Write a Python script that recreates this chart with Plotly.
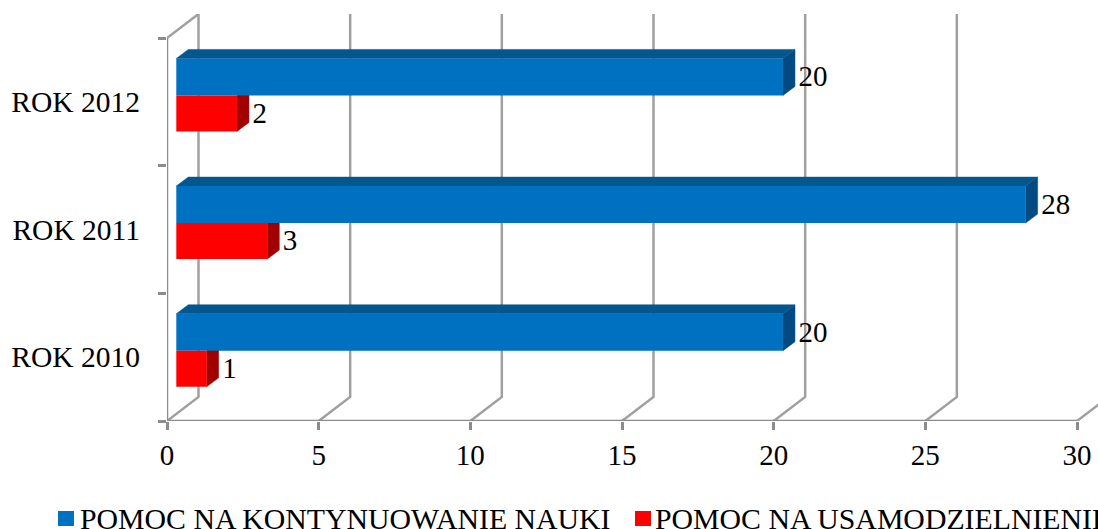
import plotly.graph_objects as go

# ---- data ----
categories = ["ROK 2010", "ROK 2011", "ROK 2012"]
series_names = ["POMOC NA KONTYNUOWANIE NAUKI", "POMOC NA USAMODZIELNIENIE"]
blue_values = [20, 28, 20]
red_values = [1, 3, 2]
x_ticks = [0, 5, 10, 15, 20, 25, 30]

# ---- geometry / style ----
W, H = 1098, 529
L, R, T, B = 167, 0, 14, 108
PX_X = 910 / 30
PX_Y = 383 / 3
WALL_DX, WALL_DY = 31.5 / PX_X, 24 / PX_Y       # depth of the chart box
BAR_X0 = 9.3 / PX_X                              # bar front start
BAR_DX, BAR_DY = 12 / PX_X, 9 / PX_Y             # depth of a bar
BLUE_OFF, BLUE_W = 0.05, 0.29
RED_OFF, RED_W = -0.232, 0.282
Y0, Y1 = -0.5, 2.5
X_MAX = (W - L - R) / PX_X
Y_MAX = Y1 + WALL_DY
GRID = "#a0a0a0"
AXIS = "#8c8c8c"
BLUE, BLUE_TOP, BLUE_SIDE = "#0070C0", "#04568f", "#024a80"
RED, RED_SIDE = "#FF0000", "#A00000"
FONT = "Liberation Serif"
FS = 29
FS_LEGEND = 29.8
LW = 2.5

fig = go.Figure()


def line(xs, ys, color=GRID, width=LW):
    fig.add_trace(go.Scatter(x=xs, y=ys, mode="lines", showlegend=False,
                             hoverinfo="skip", line=dict(color=color, width=width)))


def poly(xs, ys, color):
    fig.add_trace(go.Scatter(x=xs + xs[:1], y=ys + ys[:1], mode="lines", fill="toself", fillcolor=color,
                             showlegend=False, hoverinfo="skip",
                             line=dict(color=color, width=0.5)))


# box gridlines: floor diagonal + back wall vertical
for t in x_ticks:
    line([t, t + WALL_DX, t + WALL_DX], [Y0, Y0 + WALL_DY, Y1 + WALL_DY])
line([0, WALL_DX], [Y1, Y1 + WALL_DY])
# axis lines (limited to the front edge of the box)
line([0, 0], [Y0, Y1], AXIS)
line([0, 30], [Y0, Y0], AXIS)

# 3D faces
for i in range(len(categories)):
    for v, off, w, top, side in [(blue_values[i], BLUE_OFF, BLUE_W, BLUE_TOP, BLUE_SIDE),
                                 (red_values[i], RED_OFF, RED_W, None, RED_SIDE)]:
        x0, x1 = BAR_X0, BAR_X0 + v
        y0, y1 = i + off, i + off + w
        poly([x1, x1 + BAR_DX, x1 + BAR_DX, x1], [y0, y0 + BAR_DY, y1 + BAR_DY, y1], side)
        if top:
            poly([x0, x0 + BAR_DX, x1 + BAR_DX, x1], [y1, y1 + BAR_DY, y1 + BAR_DY, y1], top)

# value labels
for vals, off, w in [(blue_values, BLUE_OFF, BLUE_W), (red_values, RED_OFF, RED_W)]:
    fig.add_trace(go.Scatter(
        x=[BAR_X0 + v + 15.5 / PX_X for v in vals],
        y=[i + off + w / 2 - 2 / PX_Y for i in range(len(vals))],
        mode="text", text=[str(v) for v in vals], textposition="middle right",
        textfont=dict(family=FONT, size=FS, color="black"),
        showlegend=False, hoverinfo="skip"))

# front faces, on the overlaid category axis
for name, vals, off, w, color in [(series_names[0], blue_values, BLUE_OFF, BLUE_W, BLUE),
                                  (series_names[1], red_values, RED_OFF, RED_W, RED)]:
    fig.add_trace(go.Bar(name=name, y=categories, x=vals, base=BAR_X0, orientation="h", yaxis="y2",
                         offset=off, width=w, marker=dict(color=color, line=dict(width=0)),
                         showlegend=False))

# legend (the second entry runs past the page edge, as in the original)
PW, PH = W - L - R, H - T - B
legend_items = [(58, 80, BLUE, series_names[0]), (635, 655, RED, series_names[1])]
annotations, shapes = [], []
for sx, tx, color, text in legend_items:
    shapes.append(dict(type="rect", xref="paper", yref="paper",
                       x0=(sx - L) / PW, x1=(sx + 16 - L) / PW,
                       y0=(H - B - 526) / PH, y1=(H - B - 511) / PH,
                       fillcolor=color, line=dict(width=0)))
    annotations.append(dict(xref="paper", yref="paper", x=(tx - L) / PW,
                            y=(H - B - 518) / PH, xanchor="left", yanchor="middle",
                            xshift=-2, text=text, showarrow=False, align="left",
                            font=dict(family=FONT, size=FS_LEGEND, color="black")))

fig.update_layout(
    width=W, height=H, margin=dict(l=L, r=R, t=T, b=B, autoexpand=False),
    paper_bgcolor="white", plot_bgcolor="white", barmode="overlay", showlegend=False,
    font=dict(family=FONT, size=FS, color="black"),
    shapes=shapes, annotations=annotations,
    xaxis=dict(range=[0, X_MAX], tickvals=x_ticks, showgrid=False, zeroline=False, showline=False,
               ticks="outside", ticklen=8, tickwidth=LW, tickcolor=AXIS,
               tickfont=dict(family=FONT, size=FS, color="black")),
    yaxis=dict(range=[Y0, Y_MAX], visible=False, fixedrange=True),
    yaxis2=dict(type="category", categoryorder="array", categoryarray=categories, range=[Y0, Y_MAX],
                overlaying="y", side="left", anchor="x", tickson="boundaries", showgrid=False,
                zeroline=False, showline=False, ticks="outside",
                ticklen=8, tickwidth=LW, tickcolor=AXIS, ticklabelstandoff=26,
                tickfont=dict(family=FONT, size=29.5, color="black")),
)

fig.write_html("out.html", default_width=f"{W}px", default_height=f"{H}px",
               config=dict(displayModeBar=False),
               post_script="document.body.style.margin='0';document.body.style.overflow='hidden';")
